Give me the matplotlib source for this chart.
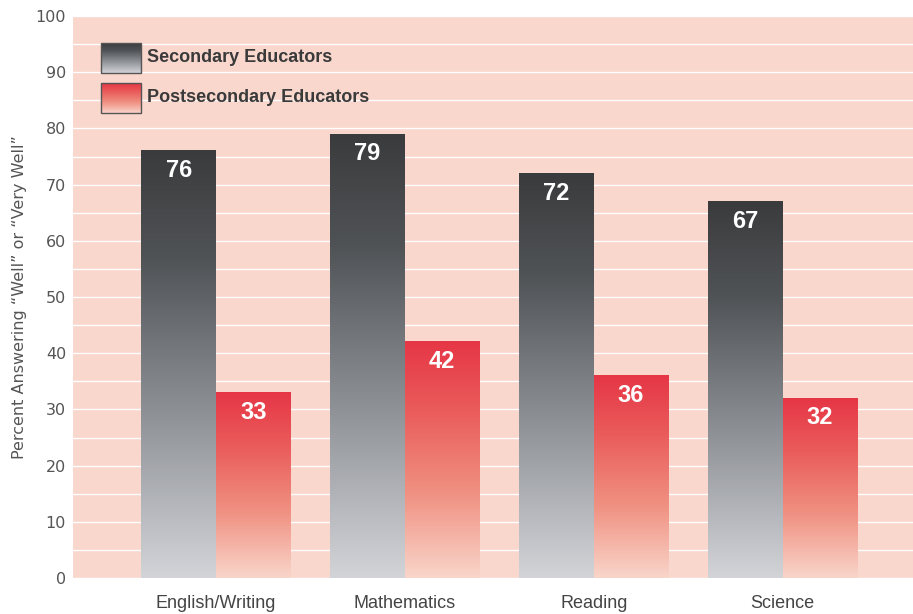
import matplotlib.pyplot as plt
import numpy as np
from matplotlib.colors import LinearSegmentedColormap

plt.rcParams['font.family'] = ['Liberation Sans', 'DejaVu Sans']

# data
categories = ['English/Writing', 'Mathematics', 'Reading', 'Science']
secondary = [76, 79, 72, 67]
postsecondary = [33, 42, 36, 32]
series_names = ['Secondary Educators', 'Postsecondary Educators']

bg = '#f9d7cd'
gray_cmap = LinearSegmentedColormap.from_list(
    'gray_grad', [(0, '#d2d4d8'), (0.4, '#8b8e93'), (0.75, '#505356'), (1, '#3a3b3d')])
red_cmap = LinearSegmentedColormap.from_list(
    'red_grad', [(0, '#f9d5ca'), (0.35, '#f09283'), (0.7, '#ea5d5c'), (1, '#e63646')])

fig = plt.figure(figsize=(9.13, 6.14), dpi=100)
ax = fig.add_axes([73 / 913, 36 / 614, 840 / 913, 562 / 614])
ax.set_facecolor(bg)

x = np.arange(len(categories))
width = 0.395
grad = np.linspace(0, 1, 256).reshape(-1, 1)


def gradient_bar(xl, h, cmap):
    ax.imshow(grad, cmap=cmap, origin='lower', aspect='auto',
              extent=(xl, xl + width, 0, h), zorder=2, interpolation='bicubic')


for i in range(len(categories)):
    gradient_bar(x[i] - width, secondary[i], gray_cmap)
    gradient_bar(x[i], postsecondary[i], red_cmap)
    for xc, v in [(x[i] - width / 2, secondary[i]), (x[i] + width / 2, postsecondary[i])]:
        ax.annotate(str(v), (xc, v), xytext=(0, -6), textcoords='offset points',
                    ha='center', va='top', color='white', fontsize=17,
                    fontweight='bold', zorder=3)

ax.set_xlim(-0.757, 3.69)
ax.set_ylim(0, 100)
ax.set_yticks(np.arange(0, 101, 10))
ax.set_yticks(np.arange(0, 101, 5), minor=True)
ax.grid(axis='y', which='both', color='white', linewidth=1.0, zorder=1)
ax.set_axisbelow(True)
ax.set_xticks(x)
ax.set_xticklabels(categories)
ax.tick_params(axis='x', length=0, labelsize=13, colors='#444444', pad=12)
ax.tick_params(axis='y', which='both', length=0, labelsize=11.5, colors='#555555', pad=5)
for lab in ax.get_yticklabels():
    lab.set_family('DejaVu Sans')
for s in ax.spines.values():
    s.set_visible(False)
ax.set_ylabel('Percent Answering \u201cWell\u201d or \u201cVery Well\u201d',
              fontsize=11.5, color='#555555', labelpad=6, family='DejaVu Sans')

# legend with gradient swatches
for j, (name, cmap) in enumerate(zip(series_names, [gray_cmap, red_cmap])):
    y0 = 0.952 - j * 0.0712
    ax.imshow(grad, cmap=cmap, origin='lower', aspect='auto',
              extent=(0.0335, 0.0805, y0 - 0.053, y0), transform=ax.transAxes, zorder=4)
    ax.add_patch(plt.Rectangle((0.0335, y0 - 0.053), 0.047, 0.053, transform=ax.transAxes,
                               fill=False, edgecolor='#555555', linewidth=1, zorder=5))
    ax.text(0.0885, y0 - 0.0265, name, transform=ax.transAxes, va='center', ha='left',
            fontsize=13, fontweight='bold', color='#3a3a3a', zorder=5)

fig.savefig('out.png', dpi=100)
